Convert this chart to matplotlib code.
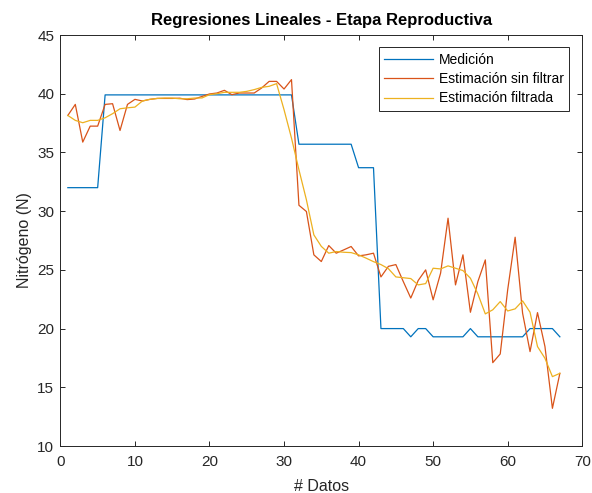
import matplotlib
matplotlib.use("Agg")
import matplotlib.pyplot as plt
import numpy as np

plt.rcParams['font.family'] = ['Liberation Sans', 'DejaVu Sans']

x_datos = list(range(1, 68))

medicion = ([32.0] * 5 + [39.9] * 26 + [35.7] * 8 + [33.7] * 3 + [20.0] * 4 + [19.3]
            + [20.0] * 2 + [19.3] * 5 + [20.0] + [19.3] * 7 + [20.0] * 4 + [19.3])

estim_sin_filtrar = [38.15, 39.09, 35.88, 37.24, 37.24, 39.09, 39.15, 36.87, 39.09, 39.52,
                     39.38, 39.52, 39.60, 39.60, 39.60, 39.62, 39.50, 39.55, 39.77, 39.98,
                     40.06, 40.29, 39.92, 40.06, 40.06, 40.06, 40.49, 41.05, 41.05, 40.40,
                     41.20, 30.50, 29.97, 26.28, 25.71, 27.07, 26.42, 26.70, 26.99, 26.19,
                     26.28, 26.42, 24.40, 25.30, 25.45, 24.00, 22.60, 24.10, 25.00, 22.45,
                     24.72, 29.40, 23.72, 26.28, 21.39, 24.00, 25.85, 17.10, 17.84, 23.30,
                     27.78, 21.31, 18.04, 21.36, 18.47, 13.21, 16.19]

estim_filtrada = [38.15, 37.73, 37.53, 37.73, 37.73, 37.95, 38.30, 38.72, 38.80, 38.86,
                  39.38, 39.52, 39.60, 39.63, 39.63, 39.57, 39.57, 39.63, 39.64, 39.92,
                  40.00, 40.12, 40.12, 40.12, 40.20, 40.35, 40.54, 40.63, 40.86, 38.64,
                  36.22, 33.52, 30.97, 27.98, 27.00, 26.42, 26.56, 26.50, 26.47, 26.28,
                  26.00, 25.70, 25.45, 25.10, 24.40, 24.33, 24.26, 23.72, 23.83, 25.14,
                  25.08, 25.34, 25.14, 24.94, 24.29, 22.95, 21.25, 21.60, 22.30, 21.50,
                  21.68, 22.36, 21.39, 18.47, 17.47, 15.91, 16.19]

series_labels = ['Medición', 'Estimación sin filtrar', 'Estimación filtrada']
colors = ['#0072BD', '#D95319', '#EDB120']
text_color = '#262626'

fig = plt.figure(figsize=(5.92, 4.93), dpi=100)
ax = fig.add_axes([0.1020, 0.0953, 0.8815, 0.8337])

for ys, lab, c in zip([medicion, estim_sin_filtrar, estim_filtrada], series_labels, colors):
    ax.plot(x_datos, ys, color=c, linewidth=0.9, label=lab)

ax.set_xlim(0, 70)
ax.set_ylim(10, 45)
ax.set_xticks(range(0, 71, 10))
ax.set_yticks(range(10, 46, 5))
ax.tick_params(direction='in', length=3.8, width=0.7, top=True, right=True,
               labelsize=11, colors=text_color)
ax.tick_params(axis='x', pad=6.5)
ax.tick_params(axis='y', pad=4.5)
for s in ax.spines.values():
    s.set_color(text_color)
    s.set_linewidth(0.7)

ax.set_xlabel('# Datos', fontsize=11.5, color=text_color, labelpad=7.5)
ax.set_ylabel('Nitrógeno (N)', fontsize=11.5, color=text_color, labelpad=4)
ax.set_title('Regresiones Lineales - Etapa Reproductiva', fontsize=12,
             fontweight='bold', color='black', pad=7)

leg = ax.legend(loc='upper right', bbox_to_anchor=(0.9756, 0.970), borderaxespad=0,
                fontsize=10, handlelength=3.55, handletextpad=0.4, labelspacing=0.38,
                fancybox=False, framealpha=1, edgecolor=text_color, borderpad=0.4)
leg.get_frame().set_linewidth(0.7)
for t in leg.get_texts():
    t.set_color('black')

fig.savefig('out.png', dpi=100)
